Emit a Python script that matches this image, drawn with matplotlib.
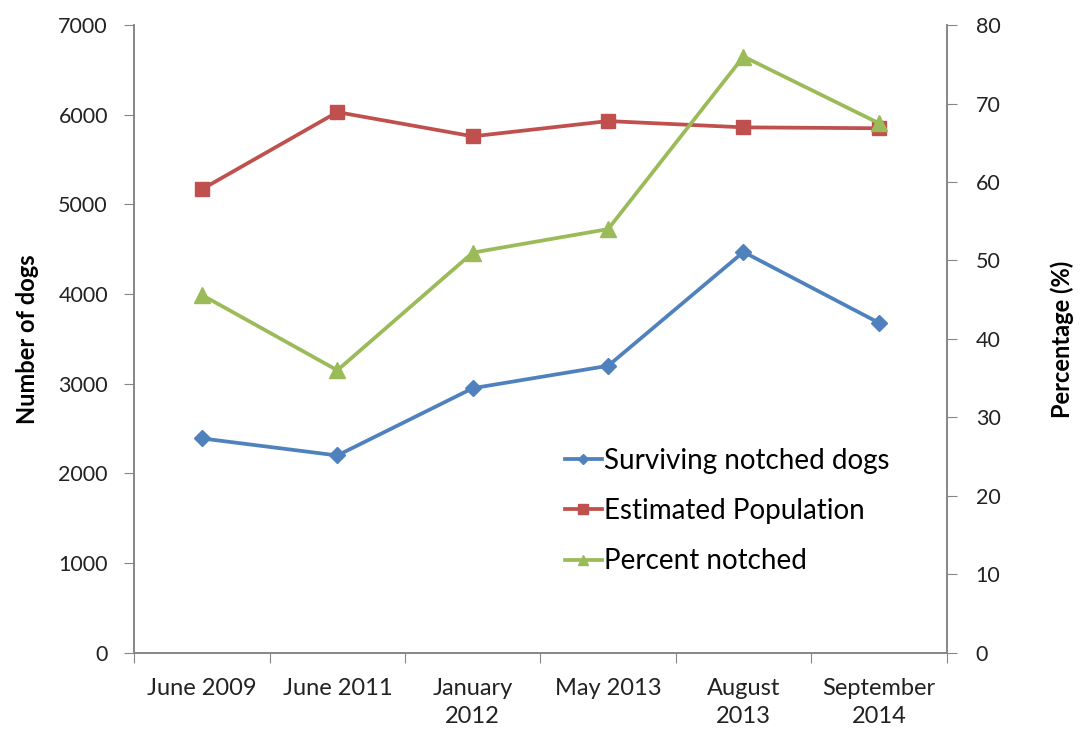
import matplotlib
matplotlib.use("Agg")
import matplotlib.pyplot as plt

plt.rcParams['font.family'] = ['Lato', 'DejaVu Sans']

# survey dates and results
dates = ["June 2009", "June 2011", "January\n2012", "May 2013", "August\n2013", "September\n2014"]
surviving = [2390, 2200, 2950, 3200, 4470, 3680]
population = [5170, 6030, 5760, 5930, 5860, 5850]
percent = [45.6, 36, 51, 54, 76, 67.5]

fig, ax = plt.subplots(figsize=(10.83, 7.4), dpi=100)
fig.subplots_adjust(left=0.124, right=0.874, top=0.966, bottom=0.118)
ax2 = ax.twinx()

x = range(len(dates))
l1, = ax.plot(x, surviving, color='#4F81BD', lw=2.7, marker='D', ms=8, label='Surviving notched dogs')
l2, = ax.plot(x, population, color='#C0504D', lw=2.7, marker='s', ms=10.5, label='Estimated Population')
l3, = ax2.plot(x, percent, color='#9BBB59', lw=2.7, marker='^', ms=11.5, label='Percent notched')

ax.set_xlim(-0.5, len(dates) - 0.5)
ax.set_ylim(0, 7000)
ax2.set_ylim(0, 80)
ax.set_yticks(range(0, 7001, 1000))
ax2.set_yticks(range(0, 81, 10))

# ticks sit between categories
ax.set_xticks([i - 0.5 for i in range(len(dates) + 1)])
ax.set_xticklabels([])
ax.set_xticks(list(x), minor=True)
ax.set_xticklabels(dates, minor=True, fontsize=17, color='#222222', linespacing=1.45)
ax.tick_params(axis='x', which='minor', length=0, pad=18)
ax.tick_params(axis='x', which='major', length=7, color='#868686', direction='out')

grey = '#868686'
for a in (ax, ax2):
    a.spines['top'].set_visible(False)
    for s in ('left', 'right', 'bottom'):
        a.spines[s].set_color(grey)
        a.spines[s].set_linewidth(1.2)
ax.tick_params(axis='y', length=7, color=grey, labelsize=15.5, labelcolor='#222222', pad=12)
ax2.tick_params(axis='y', length=7, color=grey, labelsize=15.5, labelcolor='#222222', pad=14)

ax.set_ylabel('Number of dogs', fontsize=17, fontweight='bold', labelpad=14)
ax2.set_ylabel('Percentage (%)', fontsize=17, fontweight='bold', labelpad=36)

ax2.legend(handles=[l1, l2, l3], loc='lower left', bbox_to_anchor=(0.5, 0.085),
           frameon=False, fontsize=20, handlelength=1.3, handletextpad=0.1,
           labelspacing=0.87, markerscale=0.65)

fig.savefig('out.png', dpi=100)
